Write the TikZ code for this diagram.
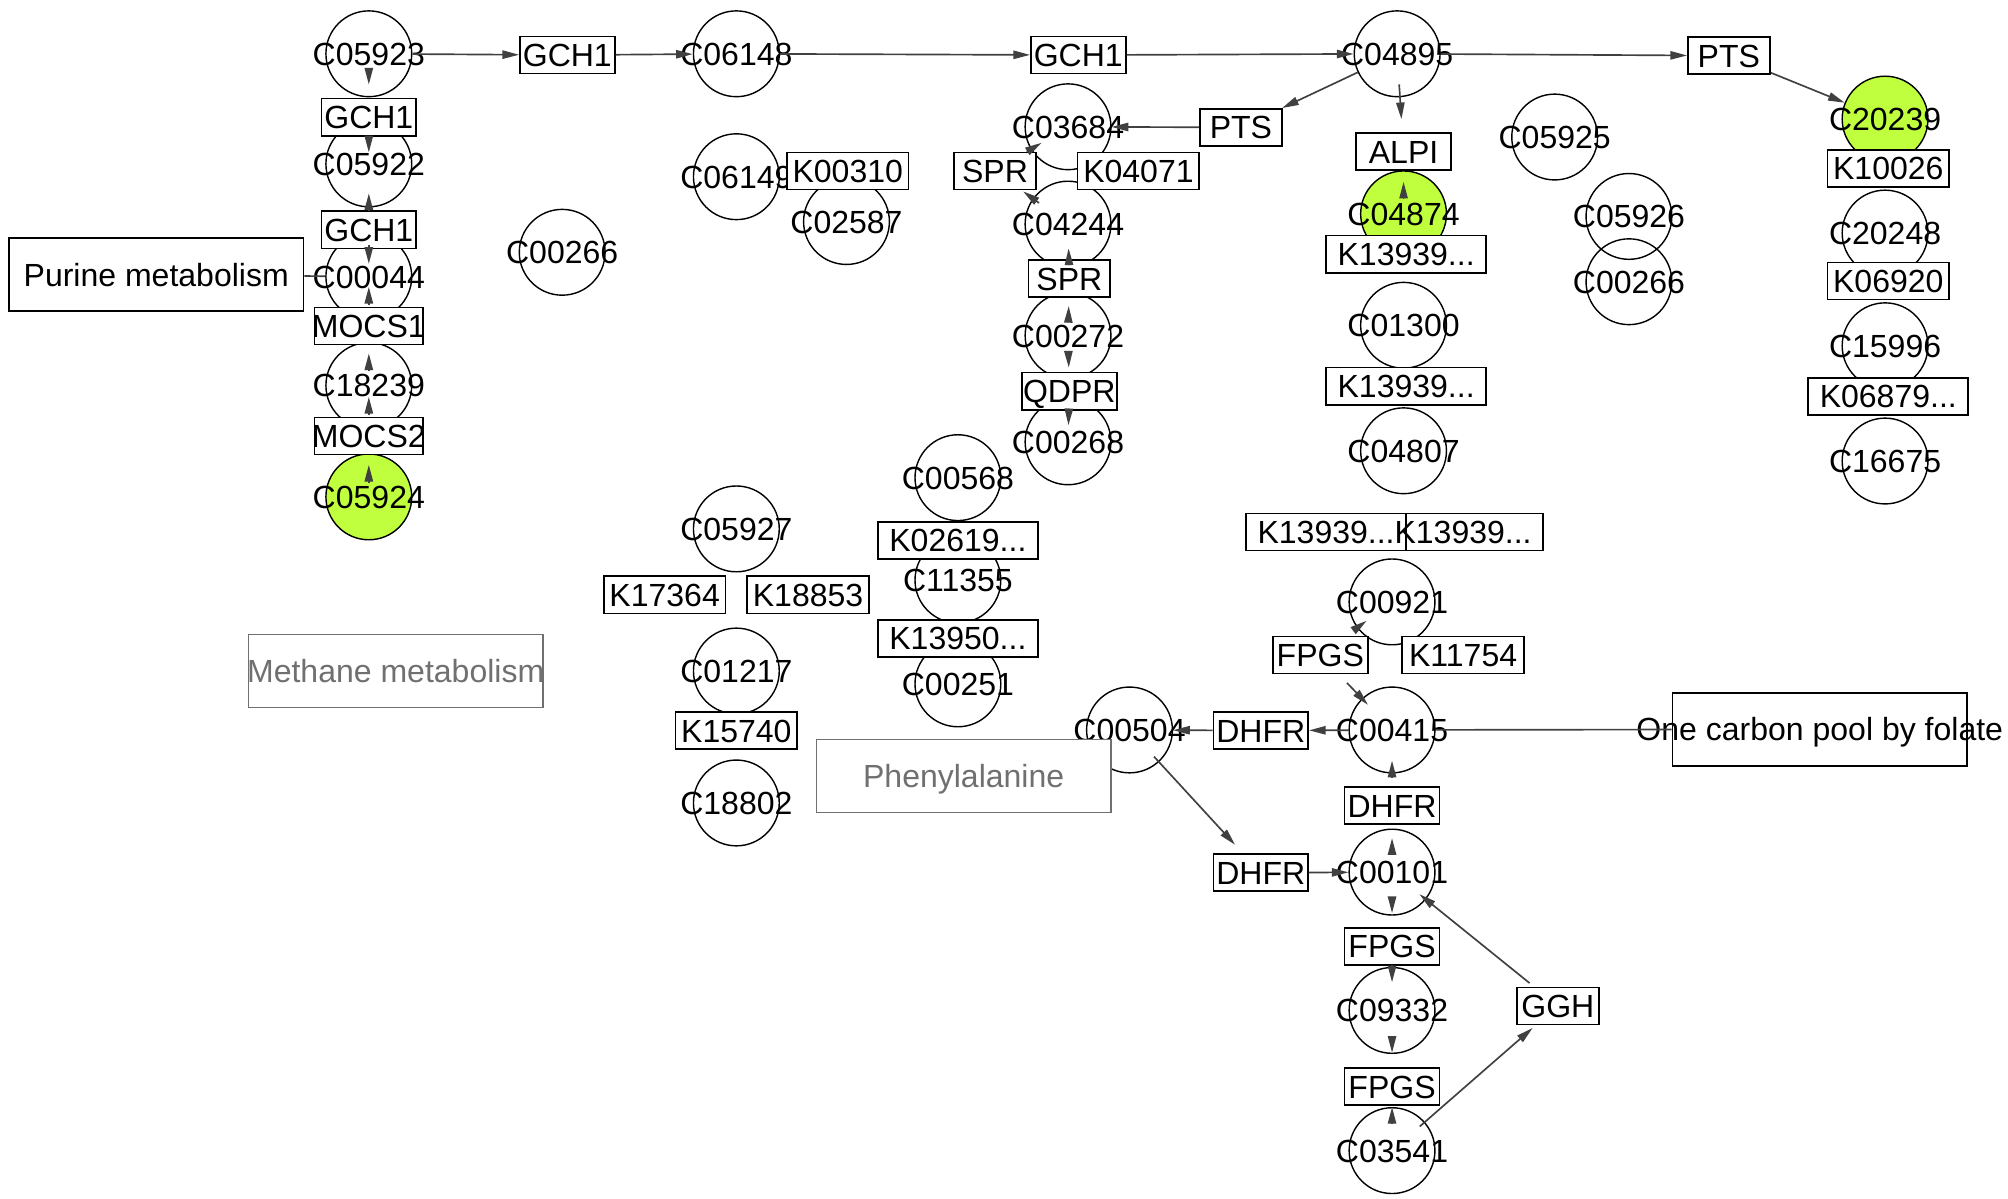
\documentclass[tikz,border=0pt]{standalone}
\usepackage{fontspec}
\setmainfont{Liberation Sans}
\usetikzlibrary{arrows.meta}
\definecolor{hitc}{HTML}{C0FF3E}
\definecolor{edgec}{HTML}{404040}
\definecolor{pgray}{HTML}{707070}
\newcommand\dfont{\fontsize{25pt}{30pt}\selectfont}
\begin{document}
\begin{tikzpicture}[x=1pt,y=-1pt,
  zerow/.style={execute at begin node={\hbox to 0pt\bgroup\hss}, execute at end node={\hss\egroup}},
  cpd/.style={circle,draw=black,line width=1.1pt,minimum size=67pt,inner sep=0pt,font=\dfont,text height=18pt,text depth=0pt,zerow},
  hit/.style={fill=hitc},
  gene/.style={rectangle,draw=black,fill=white,line width=1.3pt,minimum height=29pt,inner sep=0pt,font=\dfont,text height=18pt,text depth=0pt,zerow},
  wa/.style={minimum width=64pt},
  wb/.style={minimum width=74pt},
  wc/.style={minimum width=85pt},
  wd/.style={minimum width=95pt},
  we/.style={minimum width=125pt},
  wf/.style={minimum width=107pt},
  pathw/.style={rectangle,draw=black,fill=white,line width=1.3pt,minimum width=230pt,minimum height=57pt,inner sep=0pt,font=\dfont,text height=18pt,text depth=0pt,zerow},
  greyp/.style={draw=pgray,text=pgray},
  arr/.style={draw=edgec,line width=1.3pt,-{Triangle[length=13pt,width=6.5pt]}},
  ln/.style={draw=edgec,line width=1.3pt}]
\useasboundingbox (0,0) rectangle (1568,936);

% compounds
\node[cpd] (C05923) at (288,42) {C05923};
\node[cpd] (C05922) at (288,128) {C05922};
\node[cpd] (C00044) at (288,216) {C00044};
\node[cpd] (C18239) at (288,301) {C18239};
\node[cpd,hit] (C05924) at (288,388) {C05924};
\node[cpd] (C00266a) at (439,197) {C00266};
\node[cpd] (C06148) at (575,42) {C06148};
\node[cpd] (C06149) at (575,138) {C06149};
\node[cpd] (C02587) at (661,173) {C02587};
\node[cpd] (C03684) at (834,99) {C03684};
\node[cpd] (C04244) at (834,175) {C04244};
\node[cpd] (C00272) at (834,262) {C00272};
\node[cpd] (C00268) at (834,345) {C00268};
\node[cpd] (C00568) at (748,373) {C00568};
\node[cpd] (C11355) at (748,453) {C11355};
\node[cpd] (C00251) at (748,534) {C00251};
\node[cpd] (C05927) at (575,413) {C05927};
\node[cpd] (C01217) at (575,524) {C01217};
\node[cpd] (C18802) at (575,627) {C18802};
\node[cpd] (C04895) at (1091,42) {C04895};
\node[cpd,hit] (C04874) at (1096,167) {C04874};
\node[cpd] (C01300) at (1096,254) {C01300};
\node[cpd] (C04807) at (1096,352) {C04807};
\node[cpd] (C00921) at (1087,470) {C00921};
\node[cpd] (C00415) at (1087,570) {C00415};
\node[cpd] (C00504) at (882,570) {C00504};
\node[cpd] (C00101) at (1087,681) {C00101};
\node[cpd] (C09332) at (1087,789) {C09332};
\node[cpd] (C03541) at (1087,898.5) {C03541};
\node[cpd] (C05925) at (1214,107) {C05925};
\node[cpd] (C05926) at (1272,169) {C05926};
\node[cpd] (C00266b) at (1272,220) {C00266};
\node[cpd,hit] (C20239) at (1472,93) {C20239};
\node[cpd] (C20248) at (1472,182) {C20248};
\node[cpd] (C15996) at (1472,270) {C15996};
\node[cpd] (C16675) at (1472,360) {C16675};

% genes
\node[gene,wb] (GCH1a) at (288,91.5) {GCH1};
\node[gene,wb] (GCH1b) at (288,179.5) {GCH1};
\node[gene,wc] (MOCS1) at (288,254.5) {MOCS1};
\node[gene,wc] (MOCS2) at (288,340.5) {MOCS2};
\node[gene,wb] (GCH1t) at (443,43) {GCH1};
\node[gene,wb] (GCH1m) at (842,43) {GCH1};
\node[gene,wd] (K00310) at (662,133.5) {K00310};
\node[gene,wa] (SPR1) at (777,133.5) {SPR};
\node[gene,wd] (K04071) at (889,133.5) {K04071};
\node[gene,wa] (PTS2) at (969,99.5) {PTS};
\node[gene,wa] (SPR2) at (835,217.5) {SPR};
\node[gene,wb] (QDPR) at (835,305.5) {QDPR};
\node[gene,we] (K02619) at (748,422) {K02619...};
\node[gene,we] (K13950) at (748,498.5) {K13950...};
\node[gene,wd] (K17364) at (519,464.5) {K17364};
\node[gene,wd] (K18853) at (631,464.5) {K18853};
\node[gene,wd] (K15740) at (575,570.5) {K15740};
\node[gene,wa] (PTS) at (1350,43.5) {PTS};
\node[gene,wb] (ALPI) at (1096,118.5) {ALPI};
\node[gene,we] (K13939a) at (1098,198.5) {K13939...};
\node[gene,we] (K13939b) at (1098,301.5) {K13939...};
\node[gene,we] (K13939c) at (1035.5,415.5) {K13939...};
\node[gene,wf] (K13939d) at (1151.5,415.5) {\kern-18pt K13939...};
\node[gene,wb] (FPGSa) at (1031,511.5) {FPGS};
\node[gene,wd] (K11754) at (1142.5,511.5) {K11754};
\node[gene,wb] (DHFR1) at (984.5,570.5) {DHFR};
\node[gene,wb] (DHFR3) at (1087,629) {DHFR};
\node[gene,wb] (DHFR2) at (984.5,681.5) {DHFR};
\node[gene,wb] (FPGSb) at (1087,739) {FPGS};
\node[gene,wb] (FPGSc) at (1087,848.5) {FPGS};
\node[gene,wa] (GGH) at (1216.5,785.5) {GGH};
\node[gene,wd] (K10026) at (1474.5,131.5) {K10026};
\node[gene,wd] (K06920) at (1474.5,219.5) {K06920};
\node[gene,we] (K06879) at (1474.5,309.5) {K06879...};

% pathway maps
\node[pathw] (Purine) at (122,214.5) {Purine metabolism};
\node[pathw,greyp] (Methane) at (309,524) {Methane metabolism};
\node[pathw,greyp] (Phenyl) at (752.5,606) {Phenylalanine};
\node[pathw] (OCP) at (1421,569.5) {One carbon pool by folate};

% connectors: top row
\draw[arr] (C05923) -- (GCH1t);
\draw[arr] (GCH1t) -- (C06148);
\draw[arr] (C06148) -- (GCH1m);
\draw[arr] (GCH1m) -- (C04895);
\draw[arr] (C04895) -- (PTS);
\draw[arr] (PTS) -- (C20239);
\draw[arr] (C04895) -- (PTS2);
\draw[arr] (PTS2) -- (C03684);

% left column
\draw[ln] (Purine) -- (C00044);
\draw[arr,shorten <=11pt,shorten >=25.5pt] (C05923.center) -- (GCH1a.center);
\draw[arr,shorten <=15.5pt,shorten >=9pt] (GCH1a.center) -- (C05922.center);
\draw[arr,shorten <=14.5pt,shorten >=23pt] (GCH1b.center) -- (C05922.center);
\draw[arr,shorten <=11.5pt,shorten >=10pt] (GCH1b.center) -- (C00044.center);
\draw[arr,shorten <=16.5pt,shorten >=8pt] (MOCS1.center) -- (C00044.center);
\draw[arr,shorten <=11pt,shorten >=21.5pt] (C18239.center) -- (MOCS1.center);
\draw[arr,shorten <=16.5pt,shorten >=9pt] (MOCS2.center) -- (C18239.center);
\draw[arr,shorten <=11pt,shorten >=22.5pt] (C05924.center) -- (MOCS2.center);

% SPR column
\draw[arr,shorten <=28pt,shorten >=27.2pt] (C04244.center) -- (SPR1.center);
\draw[arr,shorten <=28.9pt,shorten >=24.2pt] (SPR1.center) -- (C03684.center);
\draw[arr,shorten <=10.5pt,shorten >=19pt] (SPR2.center) -- (C04244.center);
\draw[arr,shorten <=10pt,shorten >=21.5pt] (C00272.center) -- (SPR2.center);
\draw[arr,shorten <=13pt,shorten >=18.5pt] (C00272.center) -- (QDPR.center);
\draw[arr,shorten <=13.5pt,shorten >=13pt] (QDPR.center) -- (C00268.center);

% ALPI column
\draw[arr,shorten <=24pt,shorten >=25.5pt] (C04895.center) -- (ALPI.center);
\draw[arr,shorten <=12pt,shorten >=23.5pt] (C04874.center) -- (ALPI.center);

% folate part
\draw[arr,shorten <=31.9pt,shorten >=24.8pt] (FPGSa.center) -- (C00921.center);
\draw[arr,shorten <=30.1pt,shorten >=27.2pt] (FPGSa.center) -- (C00415.center);
\draw[ln] (OCP) -- (C00415);
\draw[arr] (C00415) -- (DHFR1);
\draw[arr] (DHFR1) -- (C00504);
\draw[arr,shorten <=28.3pt,shorten >=29.7pt] (C00504.center) -- (DHFR2.center);
\draw[arr] (DHFR2) -- (C00101);
\draw[arr,shorten <=22.5pt,shorten >=24pt] (DHFR3.center) -- (C00415.center);
\draw[arr,shorten <=13.5pt,shorten >=25.5pt] (C00101.center) -- (DHFR3.center);
\draw[arr,shorten <=19.5pt,shorten >=26pt] (C00101.center) -- (FPGSb.center);
\draw[arr,shorten <=14.5pt,shorten >=22pt] (FPGSb.center) -- (C09332.center);
\draw[arr,shorten <=21pt,shorten >=26.5pt] (C09332.center) -- (FPGSc.center);
\draw[arr,shorten <=21.5pt,shorten >=16pt] (C03541.center) -- (FPGSc.center);
\draw[arr,shorten <=28.7pt,shorten >=26.2pt] (C03541.center) -- (GGH.center);
\draw[arr,shorten <=28.4pt,shorten >=27.5pt] (GGH.center) -- (C00101.center);
\end{tikzpicture}
\end{document}
